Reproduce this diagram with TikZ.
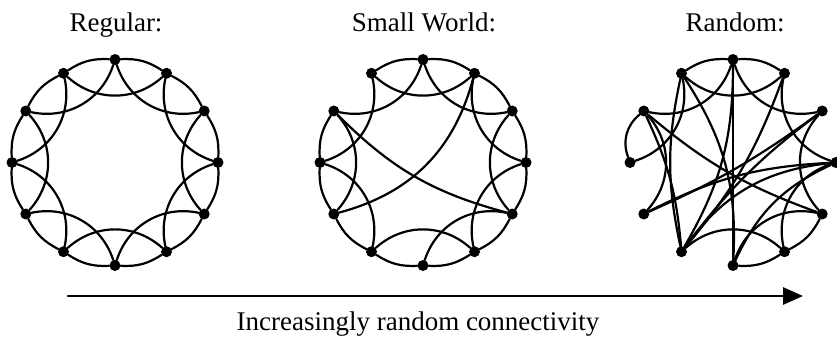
\documentclass[tikz,border=0pt]{standalone}
\usepackage{fontspec}
\setmainfont{Liberation Serif}
\usetikzlibrary{arrows.meta}

\tikzset{
  sommet/.style={circle,fill=black,inner sep=0pt,minimum size=11pt},
  titre/.style={anchor=base,font=\fontsize{27}{32}\selectfont},
  arete/.style={line width=2.2pt},
}

\begin{document}
\begin{tikzpicture}[line cap=round,line join=round,x=1pt,y=1pt]
\useasboundingbox (0,0) rectangle (837,343);
%titres
\node[titre] (tregulier) at (116,311) {Regular:};
\node[titre] (tpetit) at (424,311) {Small World:};
\node[titre] (talea) at (735,311) {Random:};
%marquage sommets
\foreach \i in {0,...,11}{
  \path (115,180.5) ++({90-30*\i}:103) node[sommet] (a\i) {};
  \path (423,180.5) ++({90-30*\i}:103) node[sommet] (b\i) {};
  \path (733,180.5) ++({90-30*\i}:103) node[sommet] (c\i) {};
}
%regulier
\foreach \i in {0,...,11}{
  \pgfmathtruncatemacro\j{mod(\i+1,12)}
  \pgfmathtruncatemacro\k{mod(\i+2,12)}
  \draw[arete] (a\i) to[bend left=18] (a\j);
  \draw[arete] (a\i) to[bend right=42] (a\k);
}
%petit monde
\foreach \i/\j in {0/1,1/2,2/3,3/4,4/5,5/6,6/7,7/8,8/9,9/10,11/0}
  \draw[arete] (b\i) to[bend left=18] (b\j);
\foreach \i/\j in {0/2,1/3,2/4,3/5,4/6,5/7,7/9,9/11,10/0,11/1,8/10}
  \draw[arete] (b\i) to[bend right=42] (b\j);
\draw[arete] (b10) to[bend right=15] (b4);
\draw[arete] (b8) to[bend right=30] (b1);
%aleatoire
\foreach \i/\j in {11/0,0/1,4/5,5/6}
  \draw[arete] (c\i) to[bend left=18] (c\j);
\draw[arete] (c9) to[bend left=35] (c10);
\foreach \i/\j in {11/1,10/0,0/2,9/11,1/3,3/5,4/6,5/7,8/10,2/4}
  \draw[arete] (c\i) to[bend right=42] (c\j);
\draw[arete] (c0) -- (c6);
\draw[arete] (c1) to[bend left=10] (c7);
\draw[arete] (c2) to[bend right=8] (c7);
\draw[arete] (c2) to[bend left=6] (c8);
\draw[arete] (c8) to[bend left=12] (c3);
\draw[arete] (c7) to[bend left=24] (c3);
\draw[arete] (c3) to[bend right=20] (c6);
\draw[arete] (c10) to[bend right=10] (c4);
\draw[arete] (c11) to[bend left=18] (c6);
\draw[arete] (c11) to[bend right=12] (c7);
\draw[arete] (c10) to[bend left=10] (c7);
\draw[arete] (c7) to[bend right=15] (c0);
%fleche
\coordinate (debut) at (68,47);
\coordinate (fin) at (803,47);
\draw[line width=2.8pt,-{Triangle[length=20pt,width=17pt]}] (debut) -- (fin);
\node[titre] (legende) at (418,13) {Increasingly random connectivity};
\end{tikzpicture}
\end{document}
